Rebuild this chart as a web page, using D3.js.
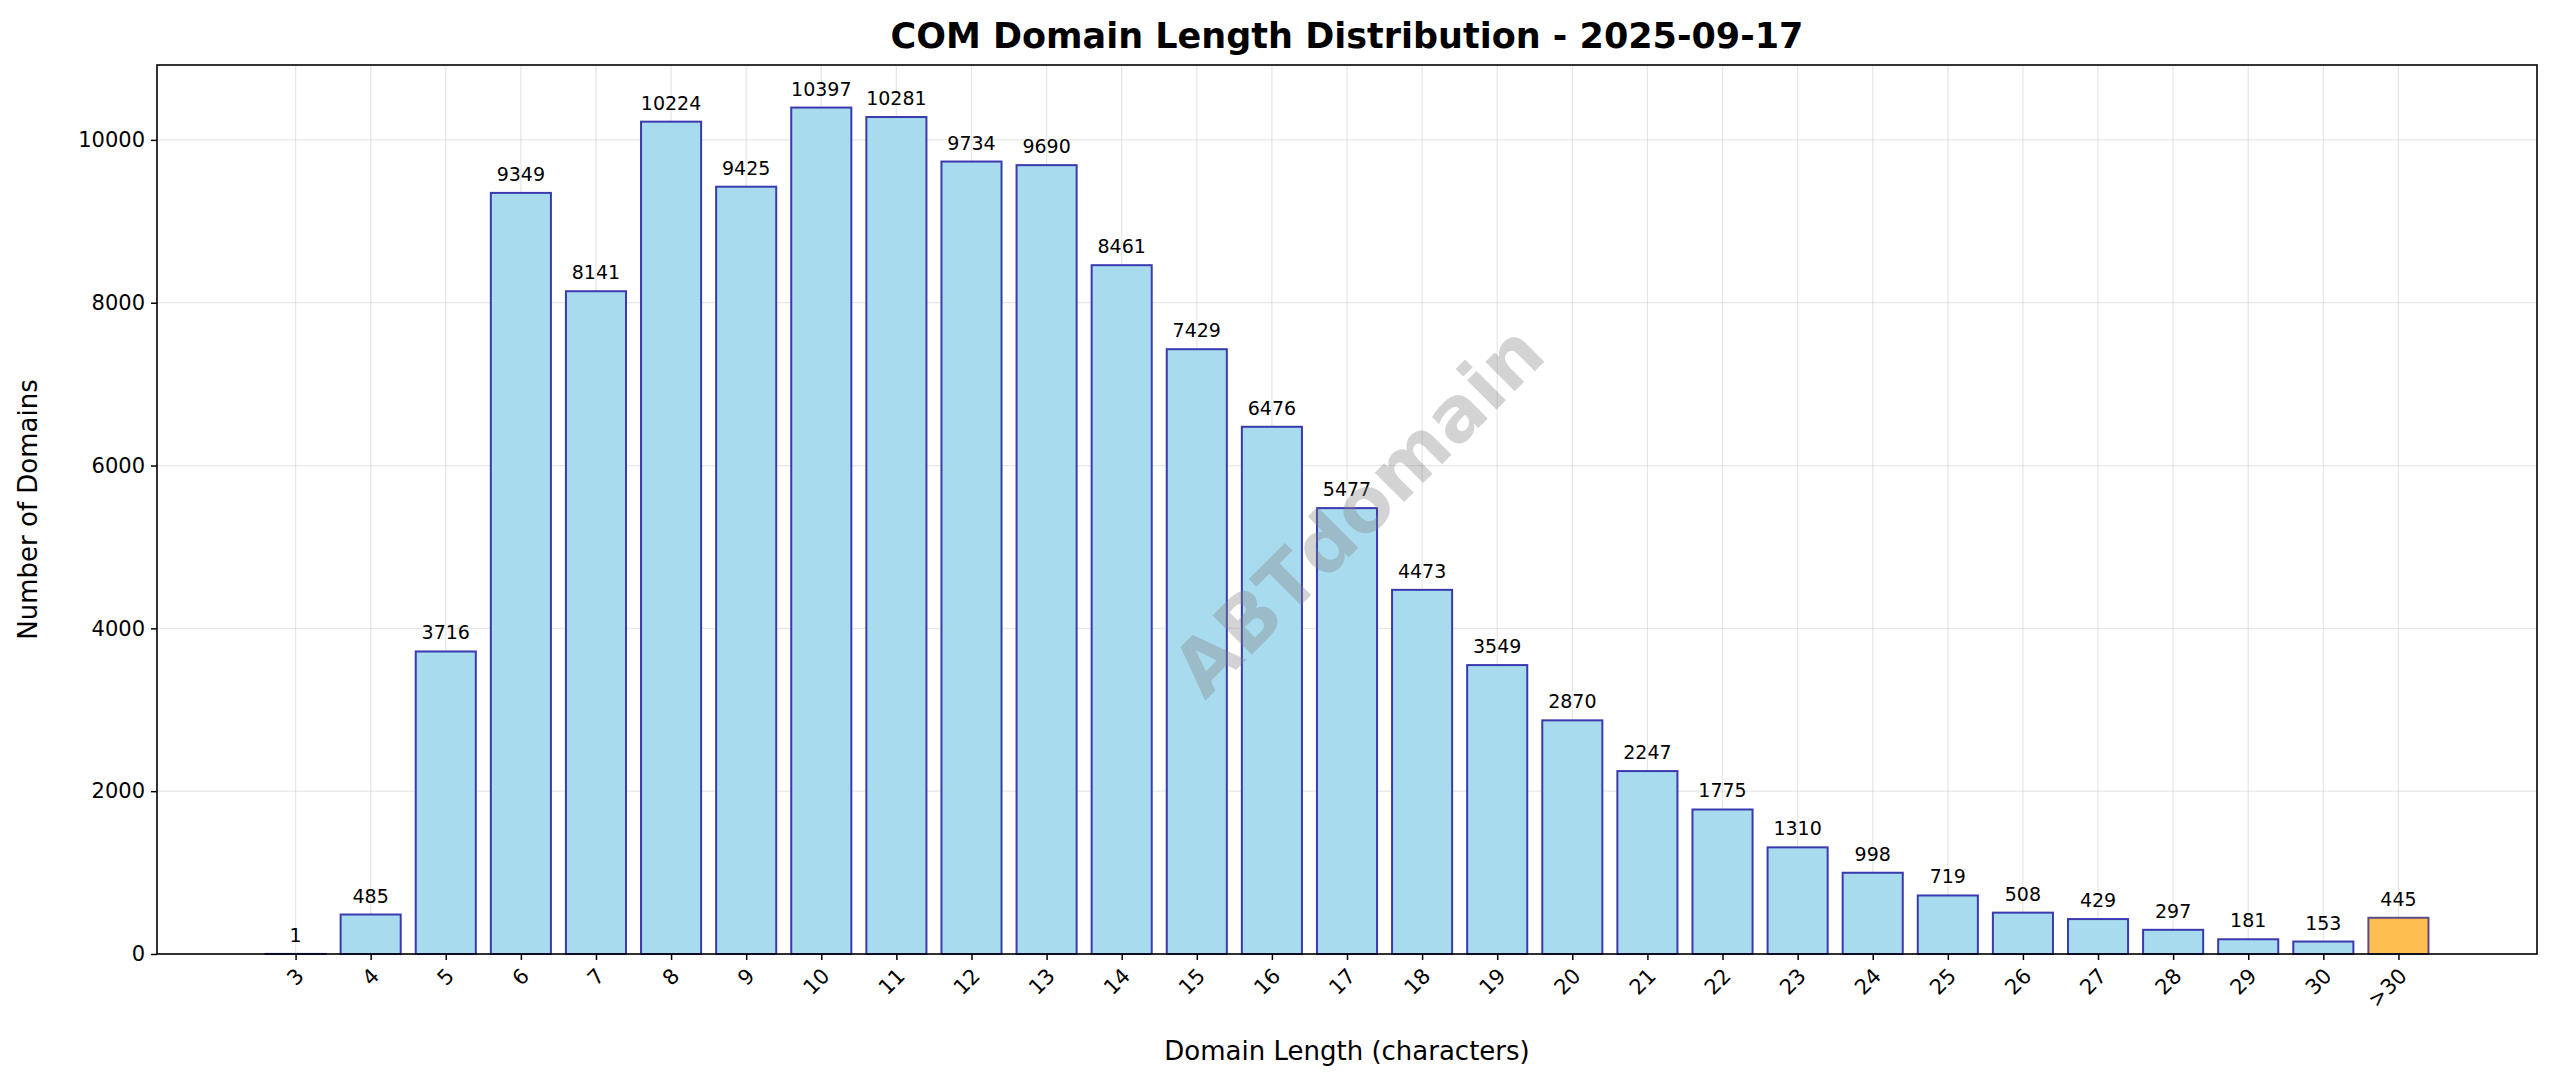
<!DOCTYPE html>
<html><head><meta charset="utf-8">
<script src="https://cdn.jsdelivr.net/npm/d3@7"></script>
<style>body{margin:0;background:#fff}svg{font-family:"DejaVu Sans",sans-serif}</style>
</head><body><div id="chart"></div>
<script>
const categories = ["3","4","5","6","7","8","9","10","11","12","13","14","15","16","17","18","19","20","21","22","23","24","25","26","27","28","29","30",">30"];
const counts = [1,485,3716,9349,8141,10224,9425,10397,10281,9734,9690,8461,7429,6476,5477,4473,3549,2870,2247,1775,1310,998,719,508,429,297,181,153,445];
const yTicks = [0,2000,4000,6000,8000,10000];

const width = 2560, height = 1087;
const margin = {top: 65, right: 23, bottom: 133, left: 157};

const svg = d3.select("#chart").append("svg")
  .attr("width", width).attr("height", height);

const x = d3.scaleLinear().domain([-1.845, categories.length - 1 + 1.845])
  .range([margin.left, width - margin.right]);
const y = d3.scaleLinear().domain([0, 10920])
  .range([height - margin.bottom, margin.top]);
const step = x(1) - x(0);
const barW = step * 0.8;

// grid
svg.append("g").selectAll("line").data(yTicks).join("line")
  .attr("x1", margin.left).attr("x2", width - margin.right)
  .attr("y1", d => y(d)).attr("y2", d => y(d))
  .attr("stroke", "#b0b0b0").attr("stroke-opacity", 0.3).attr("stroke-width", 1.3);
svg.append("g").selectAll("line").data(categories).join("line")
  .attr("x1", (d, i) => x(i)).attr("x2", (d, i) => x(i))
  .attr("y1", margin.top).attr("y2", height - margin.bottom)
  .attr("stroke", "#b0b0b0").attr("stroke-opacity", 0.3).attr("stroke-width", 1.3);

// bars
svg.append("g").selectAll("rect").data(counts).join("rect")
  .attr("x", (d, i) => x(i) - barW / 2)
  .attr("y", d => y(d))
  .attr("width", barW)
  .attr("height", d => y(0) - y(d))
  .attr("fill", (d, i) => i === categories.length - 1 ? "#ffbe4f" : "#a9dbee")
  .attr("stroke", (d, i) => i === categories.length - 1 ? "#5c4a8a" : "#3a3ab0")
  .attr("stroke-width", 2);

// value labels
svg.append("g").selectAll("text").data(counts).join("text")
  .attr("x", (d, i) => x(i)).attr("y", d => y(d) - 12)
  .attr("text-anchor", "middle").attr("font-size", 19).text(d => d);

// watermark
svg.append("text")
  .attr("transform", `translate(${x(14.2)},${y(5400)}) rotate(-45)`)
  .attr("text-anchor", "middle").attr("dominant-baseline", "middle")
  .attr("font-size", 76).attr("font-weight", "bold")
  .attr("fill", "#808080").attr("fill-opacity", 0.35).text("ABTdomain");

// axes
const yAxis = svg.append("g").attr("transform", `translate(${margin.left},0)`)
  .call(d3.axisLeft(y).tickValues(yTicks).tickFormat(d3.format("d")).tickSize(6).tickPadding(6));
yAxis.selectAll("text").attr("font-size", 21).attr("font-family", "DejaVu Sans");
const xAxis = svg.append("g").attr("transform", `translate(0,${height - margin.bottom})`)
  .call(d3.axisBottom(x).tickValues(d3.range(categories.length)).tickFormat(i => categories[i]).tickSize(6));
xAxis.selectAll("text").attr("font-size", 21).attr("font-family", "DejaVu Sans")
  .attr("text-anchor", "end").attr("x", 0).attr("y", 0).attr("dy", "0.35em")
  .attr("transform", "translate(4,18) rotate(-45)");
svg.selectAll(".domain").remove();
svg.selectAll(".tick line").attr("stroke-width", 1.5);

// frame
svg.append("rect").attr("x", margin.left).attr("y", margin.top)
  .attr("width", width - margin.left - margin.right).attr("height", height - margin.top - margin.bottom)
  .attr("fill", "none").attr("stroke", "#000").attr("stroke-width", 1.6);

// titles
svg.append("text").attr("x", (margin.left + width - margin.right) / 2).attr("y", 48)
  .attr("text-anchor", "middle").attr("font-size", 35).attr("font-weight", "bold")
  .text("COM Domain Length Distribution - 2025-09-17");
svg.append("text").attr("x", (margin.left + width - margin.right) / 2).attr("y", 1060)
  .attr("text-anchor", "middle").attr("font-size", 26).text("Domain Length (characters)");
svg.append("text").attr("transform", `translate(37,${(margin.top + height - margin.bottom) / 2}) rotate(-90)`)
  .attr("text-anchor", "middle").attr("font-size", 26).text("Number of Domains");
</script></body></html>
